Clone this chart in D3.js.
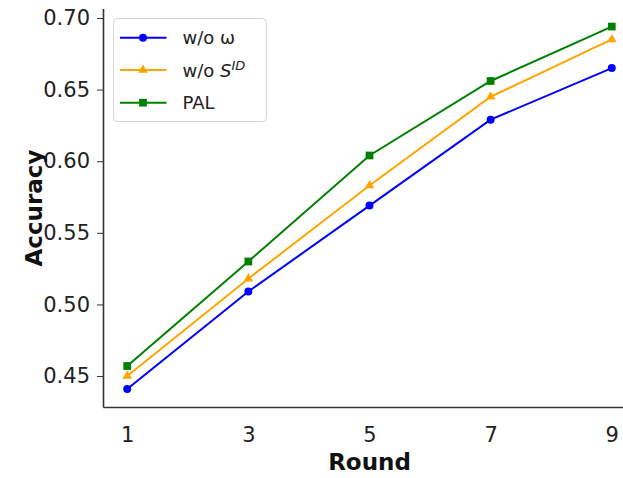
<!DOCTYPE html>
<html>
<head>
<meta charset="utf-8">
<script src="https://cdn.jsdelivr.net/npm/d3@7"></script>
<style>
  html, body { margin: 0; padding: 0; background: #fff; }
  svg { display: block; font-family: "DejaVu Sans", sans-serif; }
</style>
</head>
<body>
<svg id="chart" width="623" height="478"></svg>
<script>
// Accuracy per round for the two ablations and the full model
const rounds = [1, 3, 5, 7, 9];
const woOmega = [0.441, 0.509, 0.569, 0.629, 0.665];
const woSID   = [0.450, 0.518, 0.583, 0.645, 0.685];
const pal     = [0.457, 0.530, 0.604, 0.656, 0.694];
const yTicks  = [0.45, 0.50, 0.55, 0.60, 0.65, 0.70];

const series = [
  { name: "w/o ω",   values: woOmega, color: "#0000ff", marker: "circle" },
  { name: "w/o SID", values: woSID,   color: "#ffa500", marker: "triangle" },
  { name: "PAL",     values: pal,     color: "#008000", marker: "square" }
];

const svg = d3.select("#chart");
const plotLeft = 103, plotBottom = 407, plotTop = 8.5, plotRight = 636;

const x = d3.scaleLinear().domain([0.6, 9.4]).range([plotLeft, plotRight]);
const y = d3.scaleLinear().domain([0.4284, 0.7066]).range([plotBottom, plotTop]);

// Axes (left and bottom spines only; x ticks carry labels without marks)
const xAxis = svg.append("g")
  .attr("transform", `translate(0,${plotBottom})`)
  .call(d3.axisBottom(x).tickValues(rounds).tickFormat(d3.format("d"))
    .tickSize(0).tickSizeOuter(0).tickPadding(20));
const yAxis = svg.append("g")
  .attr("transform", `translate(${plotLeft},0)`)
  .call(d3.axisLeft(y).tickValues(yTicks).tickFormat(d3.format(".2f"))
    .tickSize(6).tickSizeOuter(0).tickPadding(7));

[xAxis, yAxis].forEach(g => {
  g.select(".domain").attr("stroke", "#333").attr("stroke-width", 1.6);
  g.selectAll(".tick line").attr("stroke", "#333").attr("stroke-width", 1);
  g.selectAll(".tick text").attr("fill", "#222").style("font-size", "21px")
    .style("font-family", "'DejaVu Sans', sans-serif");
});

// Axis titles
svg.append("text")
  .attr("x", (x(1) + x(9)) / 2).attr("y", 470)
  .attr("text-anchor", "middle")
  .style("font-size", "23px").style("font-weight", "bold").attr("fill", "#111")
  .text("Round");
svg.append("text")
  .attr("transform", `translate(42,${(y(0.45) + y(0.70)) / 2 + 11}) rotate(-90)`)
  .attr("text-anchor", "middle")
  .style("font-size", "23px").style("font-weight", "bold").attr("fill", "#111")
  .text("Accuracy");

const symbolFor = m => m === "circle" ? d3.symbolCircle : m === "triangle" ? d3.symbolTriangle : d3.symbolSquare;
const sizeFor = m => m === "circle" ? 50 : m === "triangle" ? 40 : 60;

const line = d3.line().x((d, i) => x(rounds[i])).y(d => y(d));

series.forEach(s => {
  svg.append("path")
    .datum(s.values)
    .attr("fill", "none")
    .attr("stroke", s.color)
    .attr("stroke-width", 2)
    .attr("d", line);
  svg.selectAll(null)
    .data(s.values)
    .enter().append("path")
    .attr("transform", (d, i) => `translate(${x(rounds[i])},${y(d)})`)
    .attr("d", d3.symbol().type(symbolFor(s.marker)).size(sizeFor(s.marker)))
    .attr("fill", s.color);
});

// Legend
const legend = svg.append("g");
legend.append("rect")
  .attr("x", 113.5).attr("y", 18.5).attr("width", 153).attr("height", 103)
  .attr("rx", 4).attr("fill", "#fff").attr("fill-opacity", 0.8)
  .attr("stroke", "#d5d5d5").attr("stroke-width", 1);

const rowY = [37.7, 70, 102.7];
series.forEach((s, i) => {
  const g = legend.append("g").attr("transform", `translate(0,${rowY[i]})`);
  g.append("line").attr("x1", 120).attr("x2", 166.5).attr("y1", 0).attr("y2", 0)
    .attr("stroke", s.color).attr("stroke-width", 2);
  g.append("path").attr("transform", "translate(143,0)")
    .attr("d", d3.symbol().type(symbolFor(s.marker)).size(sizeFor(s.marker)))
    .attr("fill", s.color);
  const t = g.append("text").attr("x", 182.5).attr("y", 6.5)
    .style("font-size", "18px").attr("fill", "#222");
  if (s.name === "w/o SID") {
    t.append("tspan").text("w/o ");
    t.append("tspan").style("font-style", "italic").text("S");
    t.append("tspan").attr("dy", -7).style("font-size", "13px").style("font-style", "italic").text("ID");
  } else {
    t.text(s.name);
  }
});
</script>
</body>
</html>
